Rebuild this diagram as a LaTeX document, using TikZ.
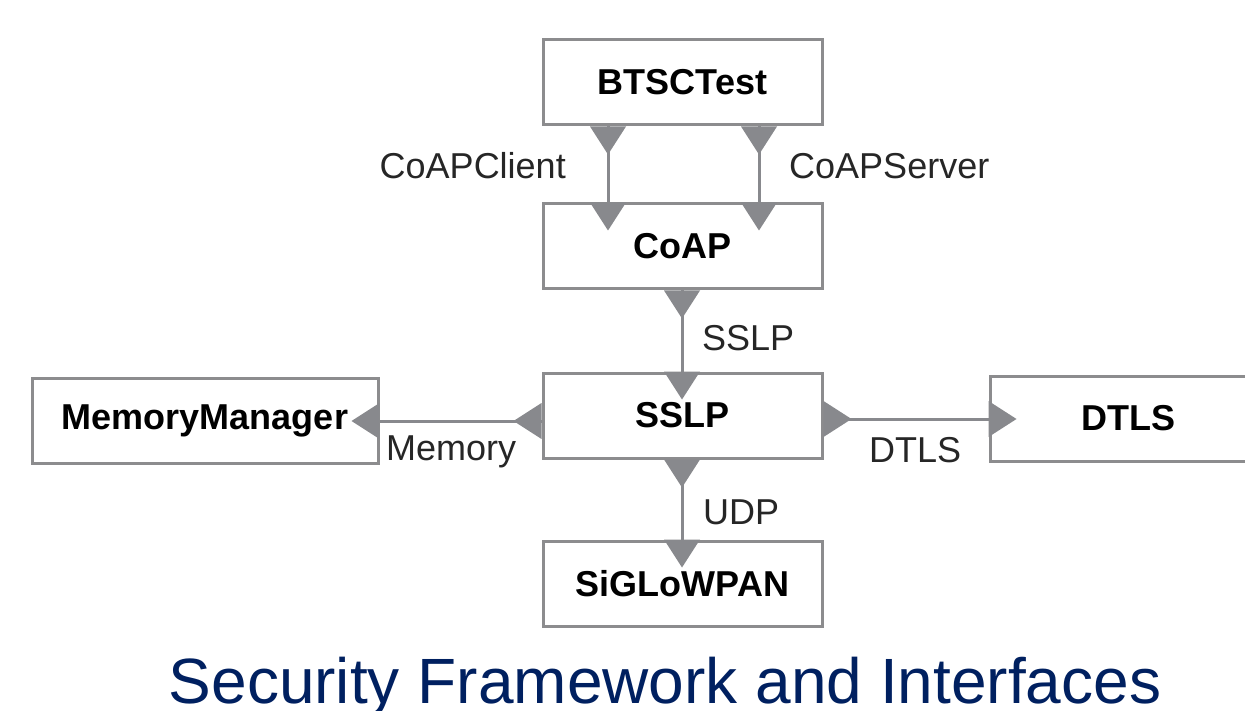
\documentclass[tikz,border=0pt]{standalone}
\usepackage{fontspec}
\setmainfont{Liberation Sans}
\usetikzlibrary{calc}
\definecolor{linegray}{RGB}{136,137,141}
\definecolor{boxgray}{RGB}{140,140,142}
\definecolor{titleblue}{RGB}{0,32,96}
\begin{document}
\begin{tikzpicture}[x=1pt,y=-1pt,
  box/.style={draw=boxgray,line width=3pt,fill=white,minimum height=85pt,inner sep=0pt,font=\fontsize{36}{40}\selectfont\bfseries},
  conn/.style={draw=linegray,line width=3pt},
  lbl/.style={font=\fontsize{36}{40}\selectfont,text=black!85,inner sep=0pt},
  tri/.pic={\fill[linegray] (-18pt,0pt) -- (18pt,0pt) -- (0pt,-28pt) -- cycle;}]
\useasboundingbox (0,0) rectangle (1245,711);
\clip (0,0) rectangle (1245,711);
\fill[white] (0,0) rectangle (1245,711);
% boxes
\node[box,minimum width=279pt] (bts) at (682.5,82.5) {BTSCTest};
\node[box,minimum width=279pt] (coap) at (682.5,246.5) {CoAP};
\node[box,minimum width=279pt] (sslp) at (682.5,415.5) {SSLP};
\node[box,minimum width=279pt] (sig) at (682.5,583.5) {SiGLoWPAN};
\node[box,minimum width=346pt] (mm) at (205,420.5) {MemoryManager};
\node[box,minimum width=276pt] (dtls) at (1128,418.5) {DTLS};
% connector positions
\coordinate (cl) at (608,0);
\coordinate (cs) at (759,0);
\coordinate (cx) at (682,0);
\coordinate (my) at (0,421);
\coordinate (dy) at (0,419);
% connectors
\draw[conn] (cl |- bts.south) -- (cl |- coap.north);
\pic at (cl |- bts.south) {tri};
\pic at (cl |- coap.north) {tri};
\draw[conn] (cs |- bts.south) -- (cs |- coap.north);
\pic at (cs |- bts.south) {tri};
\pic at (cs |- coap.north) {tri};
\draw[conn] (cx |- coap.south) -- (cx |- sslp.north);
\pic at (cx |- coap.south) {tri};
\pic at (cx |- sslp.north) {tri};
\draw[conn] (cx |- sslp.south) -- (cx |- sig.north);
\pic at (cx |- sslp.south) {tri};
\pic at (cx |- sig.north) {tri};
\draw[conn] (sslp.west |- my) -- (mm.east |- my);
\pic[rotate=-90] at (sslp.west |- my) {tri};
\pic[rotate=-90] at (mm.east |- my) {tri};
\draw[conn] (sslp.east |- dy) -- (dtls.west |- dy);
\pic[rotate=90] at (sslp.east |- dy) {tri};
\pic[rotate=90] at (dtls.west |- dy) {tri};
% labels
\node[lbl,anchor=east] (lcl) at (566,166) {CoAPClient};
\node[lbl,anchor=west] (lcs) at (789,166) {CoAPServer};
\node[lbl,anchor=west] (lss) at (702,338) {SSLP};
\node[lbl,anchor=west] (lme) at (386,452) {Memory};
\node[lbl,anchor=west] (ldt) at (869,450) {DTLS};
\node[lbl,anchor=west] (lud) at (703,512) {UDP};
% title
\node[font=\fontsize{64}{72}\selectfont,text=titleblue,anchor=base,inner sep=0pt] (title) at (665,703) {Security Framework and Interfaces};
\end{tikzpicture}
\end{document}
